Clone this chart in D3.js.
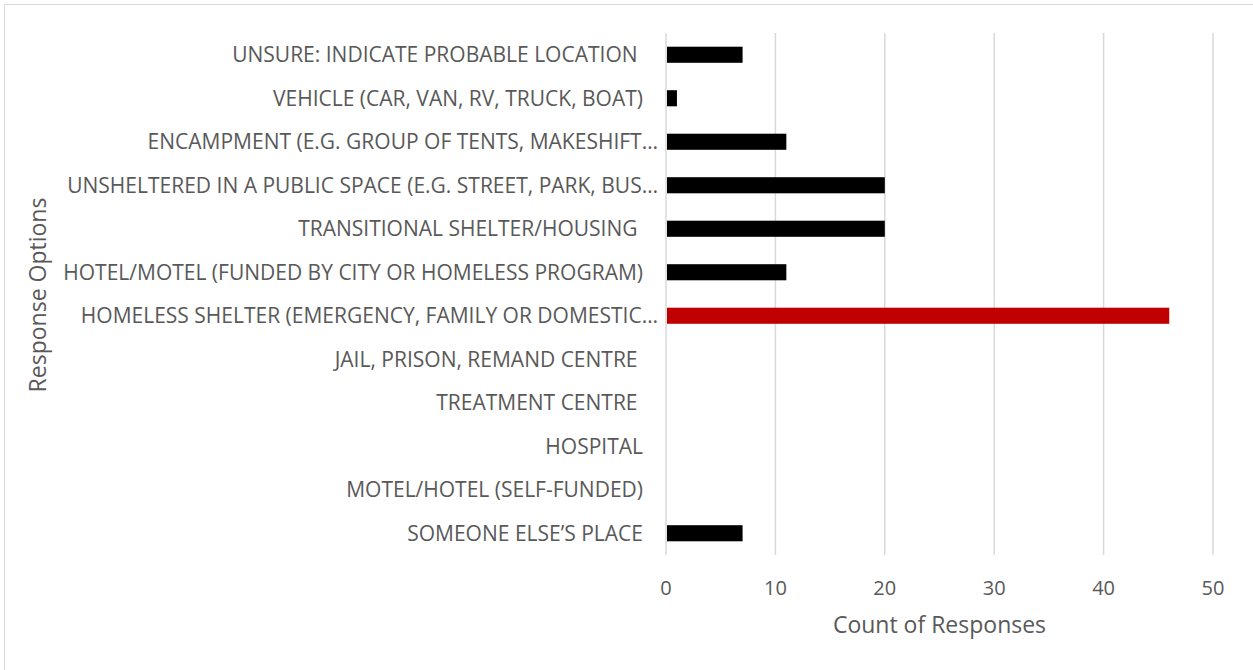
<!DOCTYPE html>
<html>
<head>
<meta charset="utf-8">
<script src="https://cdn.jsdelivr.net/npm/d3@7"></script>
<style>
  body { margin: 0; background: #fff; }
  text { font-family: "Open Sans", sans-serif; fill: #595959; }
  .lbl { white-space: pre; }
</style>
</head>
<body>
<div id="chart"></div>
<script>
// response options, top to bottom
const categories = [
  "UNSURE: INDICATE PROBABLE LOCATION ",
  "VEHICLE (CAR, VAN, RV, TRUCK, BOAT)",
  "ENCAMPMENT (E.G. GROUP OF TENTS, MAKESHIFT\u2026",
  "UNSHELTERED IN A PUBLIC SPACE (E.G. STREET, PARK, BUS\u2026",
  "TRANSITIONAL SHELTER/HOUSING ",
  "HOTEL/MOTEL (FUNDED BY CITY OR HOMELESS PROGRAM)",
  "HOMELESS SHELTER (EMERGENCY, FAMILY OR DOMESTIC\u2026",
  "JAIL, PRISON, REMAND CENTRE ",
  "TREATMENT CENTRE ",
  "HOSPITAL",
  "MOTEL/HOTEL (SELF-FUNDED)",
  "SOMEONE ELSE\u2019S PLACE"
]
const counts = [7, 1, 11, 20, 20, 11, 46, 0, 0, 0, 0, 7]
const highlight = "HOMELESS SHELTER (EMERGENCY, FAMILY OR DOMESTIC\u2026"
const xTicks = [0, 10, 20, 30, 40, 50]

const W = 1253, H = 670
const m = { left: 666, right: 40, top: 33, bottom: 115 }

let svg = d3.select("#chart").append("svg")
            .attr("width", W).attr("height", H)

svg.append("rect")
   .attr("x", 4.5).attr("y", 4.5)
   .attr("width", W + 20).attr("height", H + 20)
   .attr("fill", "none").attr("stroke", "#d9d9d9").attr("stroke-width", 1)

let x = d3.scaleLinear().domain([0, 50]).range([m.left, W - m.right])
let y = d3.scaleBand().domain(categories).range([m.top, H - m.bottom]).paddingInner(0.63).paddingOuter(0.315)

// gridlines
svg.append("g").selectAll("line")
   .data(xTicks).enter()
   .append("line")
   .attr("x1", d => x(d)).attr("x2", d => x(d))
   .attr("y1", m.top).attr("y2", H - m.bottom)
   .attr("stroke", "#d9d9d9").attr("stroke-width", 1.5)

// bars
svg.append("g").selectAll("rect")
   .data(categories).enter()
   .append("rect")
   .attr("x", x(0) + 1)
   .attr("y", d => y(d))
   .attr("height", y.bandwidth())
   .attr("width", (d, i) => Math.max(0, x(counts[i]) - x(0) - 1))
   .attr("fill", d => d == highlight ? "#c00000" : "#000000")

// category labels
svg.append("g").selectAll("text")
   .data(categories).enter()
   .append("text")
   .attr("class", "lbl")
   .attr("x", d => d.endsWith("\u2026") ? 658 : 643)
   .attr("y", d => y(d) + y.bandwidth() / 2)
   .attr("dy", "0.35em")
   .attr("text-anchor", "end")
   .attr("font-size", "21px")
   .text(d => d)

// x tick labels
svg.append("g").selectAll("text")
   .data(xTicks).enter()
   .append("text")
   .attr("x", d => x(d))
   .attr("y", 588).attr("dy", "0.35em")
   .attr("text-anchor", "middle")
   .attr("font-size", "20px")
   .text(d => d)

svg.append("text")
   .attr("x", (x(0) + x(50)) / 2).attr("y", 625).attr("dy", "0.35em")
   .attr("text-anchor", "middle")
   .attr("font-size", "23px")
   .text("Count of Responses")

svg.append("text")
   .attr("transform", "translate(38," + ((m.top + H - m.bottom) / 2 + 1) + ") rotate(-90)")
   .attr("dy", "0.35em")
   .attr("text-anchor", "middle")
   .attr("font-size", "23px")
   .text("Response Options")
</script>
</body>
</html>
